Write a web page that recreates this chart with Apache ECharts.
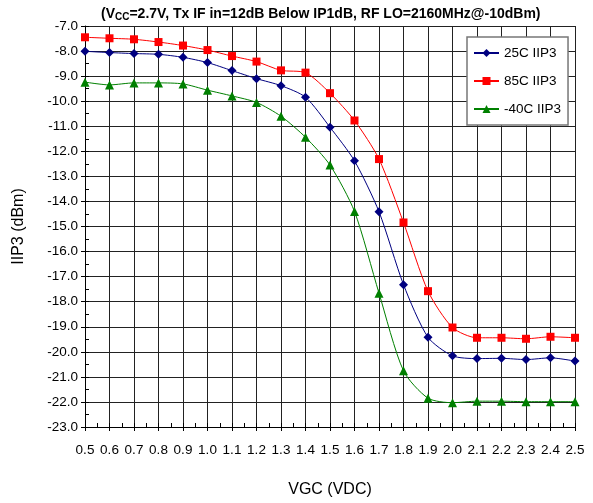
<!DOCTYPE html>
<html>
<head>
<meta charset="utf-8">
<script src="https://cdn.jsdelivr.net/npm/echarts@6/dist/echarts.min.js"></script>
<style>
  html, body { margin: 0; padding: 0; background: #fff; }
  #chart { width: 593px; height: 503px; }
</style>
</head>
<body>
<div id="chart"></div>
<script>
// VGC sweep, 0.5 .. 2.5 V
var vgc = [0.5, 0.6, 0.7, 0.8, 0.9, 1.0, 1.1, 1.2, 1.3, 1.4, 1.5,
           1.6, 1.7, 1.8, 1.9, 2.0, 2.1, 2.2, 2.3, 2.4, 2.5];

var iip3_25c = [-8.01, -8.06, -8.10, -8.13, -8.25, -8.46, -8.78, -9.10, -9.38, -9.84, -11.04,
                -12.38, -14.41, -17.32, -19.42, -20.16, -20.27, -20.26, -20.31, -20.24, -20.37];
var iip3_85c = [-7.45, -7.49, -7.53, -7.64, -7.78, -7.96, -8.20, -8.42, -8.77, -8.86, -9.68,
                -10.77, -12.31, -14.84, -17.58, -19.03, -19.44, -19.44, -19.48, -19.40, -19.44];
var iip3_m40c = [-9.24, -9.35, -9.27, -9.27, -9.31, -9.56, -9.79, -10.05, -10.60, -11.44, -12.55,
                 -14.40, -17.66, -20.76, -21.85, -22.03, -21.97, -21.97, -21.99, -21.99, -21.99];

var seriesNames = ['25C IIP3', '85C IIP3', '-40C IIP3'];

function pairs(ys) {
  return vgc.map(function (x, i) { return [x, ys[i]]; });
}

var font = 'Liberation Sans, Arial, sans-serif';
var chart = echarts.init(document.getElementById('chart'));

var option = {
  animation: false,
  backgroundColor: '#fff',
  title: {
    text: '({a|V}{s|CC}{a|=2.7V, Tx IF in=12dB Below IP1dB, RF LO=2160MHz@-10dBm)}',
    left: 96,
    top: 1,
    textStyle: {
      rich: {
        a: { fontFamily: font, fontSize: 14, fontWeight: 'bold', color: '#000' },
        s: { fontFamily: font, fontSize: 10, fontWeight: 'bold', color: '#000', verticalAlign: 'bottom', padding: [6, 0, 0, 0] }
      },
      fontFamily: font, fontSize: 14, fontWeight: 'bold', color: '#000'
    }
  },
  legend: {
    orient: 'vertical',
    left: 467,
    top: 37,
    padding: [9, 7, 9, 6],
    itemGap: 14,
    itemWidth: 25,
    itemHeight: 10,
    backgroundColor: '#fff',
    borderColor: '#777',
    borderWidth: 1.5,
    textStyle: { fontFamily: font, fontSize: 13.5, color: '#000' },
    data: seriesNames
  },
  grid: { left: 85, right: 18, top: 26, bottom: 75 },
  xAxis: [{
    type: 'value',
    min: 0.5, max: 2.5, interval: 0.1,
    name: 'VGC (VDC)',
    nameLocation: 'middle',
    nameGap: 55,
    nameTextStyle: { fontFamily: font, fontSize: 16, color: '#000' },
    axisLine: { onZero: false, lineStyle: { color: '#000', width: 1 } },
    axisTick: { show: true, inside: false, length: 4, lineStyle: { color: '#000' } },
    axisLabel: {
      margin: 16,
      fontFamily: font, fontSize: 13.5, color: '#000',
      formatter: function (v) { return v.toFixed(1); }
    },
    splitLine: { show: true, lineStyle: { color: '#222', width: 1 } }
  }, {
    // minor ticks drawn inside the plot
    type: 'value',
    position: 'bottom',
    min: 0.5, max: 2.5, interval: 0.05,
    axisLine: { show: false },
    axisTick: { show: true, inside: true, length: 4, lineStyle: { color: '#000' } },
    axisLabel: { show: false },
    splitLine: { show: false }
  }],
  yAxis: [{
    type: 'value',
    min: -23, max: -7, interval: 1,
    name: 'IIP3 (dBm)',
    nameLocation: 'middle',
    nameGap: 58,
    nameTextStyle: { fontFamily: font, fontSize: 16, color: '#000' },
    axisLine: { show: true, onZero: false, lineStyle: { color: '#000', width: 1 } },
    axisTick: { show: true, inside: false, length: 4, lineStyle: { color: '#000' } },
    axisLabel: {
      margin: 7,
      fontFamily: font, fontSize: 13.5, color: '#000',
      formatter: function (v) { return v.toFixed(1); }
    },
    splitLine: { show: true, lineStyle: { color: '#222', width: 1 } }
  }, {
    type: 'value',
    position: 'left',
    offset: 0,
    min: -23, max: -7, interval: 0.5,
    axisLine: { show: false },
    axisTick: { show: true, inside: true, length: 4, lineStyle: { color: '#000' } },
    axisLabel: { show: false },
    splitLine: { show: false }
  }],
  series: [{
    name: seriesNames[0],
    type: 'line',
    data: pairs(iip3_25c),
    smooth: 0.25,
    symbol: 'diamond',
    symbolSize: 9,
    color: '#000080',
    lineStyle: { width: 1, color: '#000080' },
    itemStyle: { color: '#000080' },
    z: 4
  }, {
    name: seriesNames[1],
    type: 'line',
    data: pairs(iip3_85c),
    smooth: 0.25,
    symbol: 'rect',
    symbolSize: 8,
    color: '#ff0000',
    lineStyle: { width: 1, color: '#ff0000' },
    itemStyle: { color: '#ff0000' },
    z: 3
  }, {
    name: seriesNames[2],
    type: 'line',
    data: pairs(iip3_m40c),
    smooth: 0.25,
    symbol: 'triangle',
    symbolSize: 9,
    color: '#008000',
    lineStyle: { width: 1, color: '#008000' },
    itemStyle: { color: '#008000' },
    z: 2
  }]
};

chart.setOption(option);
</script>
</body>
</html>
